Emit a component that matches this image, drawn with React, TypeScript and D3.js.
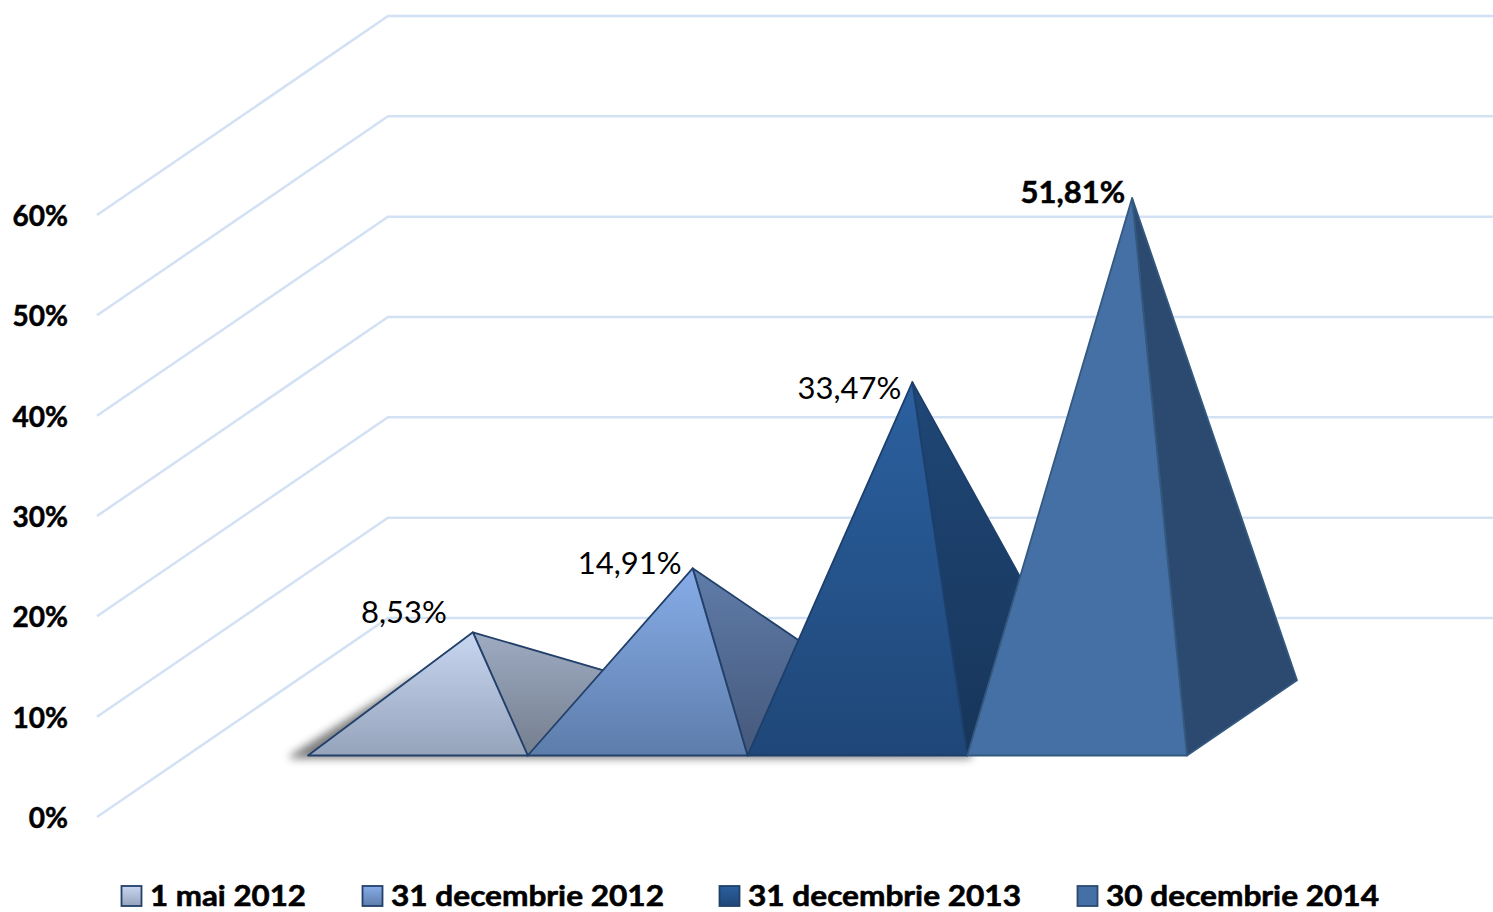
import React from "react";
import * as d3 from "d3";

const categories = ["1 mai 2012", "31 decembrie 2012", "31 decembrie 2013", "30 decembrie 2014"];
const values = [8.53, 14.91, 33.47, 51.81];
const valueLabels = ["8,53%", "14,91%", "33,47%", "51,81%"];
const ticks = [0, 10, 20, 30, 40, 50, 60];

const FONT = "Lato, 'Open Sans', sans-serif";
const frontColors = [["#c8d6f1", "#95a3bb"], ["#87ace8", "#5d7dab"], ["#2b609f", "#1f4778"], ["#4570a6", "#4570a6"]];
const sideColors = [["#9eabc2", "#747e8e"], ["#5f7ca9", "#45587a"], ["#1f4776", "#17355a"], ["#2c4a70", "#2c4a70"]];
const strokes = ["#22406a", "#22406a", "#1d3f6c", "#34597f"];
const labelNudges: [number, number][] = [[-26, -9], [-11, 6], [-11, 17], [-7, 5]];
const legendX = [121, 362, 719, 1077];
const legendTextW = [156, 273, 273, 273];

const y = d3.scaleLinear().domain([0, 60]).range([817, 215]);
const x = d3.scaleBand().domain(categories).range([308, 1187]).padding(0);
const depthDx = d3.scaleLinear().domain([0, 1]).range([0, 291]);
const depthDy = d3.scaleLinear().domain([0, 1]).range([0, -199]);

const baseY = 755.5;
const depth = 110 / 291; // pyramid depth as a fraction of the floor depth
const path = (pts: [number, number][]) => d3.line()(pts) + "Z";

export default function App() {
  const bw = x.bandwidth();
  const height = (v: number) => y(0) - y(v);
  const dx = depthDx(depth);
  const dy = depthDy(depth);
  const first = x(categories[0])!;
  const shadowEnd = x(categories[3])! + 4;
  return (
    <svg width={1493} height={912} style={{ position: "absolute", left: 0, top: 0, display: "block", background: "#fff" }}>
      <defs>
        {categories.map((_, i) => (
          <React.Fragment key={i}>
            <linearGradient id={`f${i}`} x1="0" y1="0" x2="0" y2="1">
              <stop offset="0" stopColor={frontColors[i][0]} />
              <stop offset="1" stopColor={frontColors[i][1]} />
            </linearGradient>
            <linearGradient id={`s${i}`} x1="0" y1="0" x2="0" y2="1">
              <stop offset="0" stopColor={sideColors[i][0]} />
              <stop offset="1" stopColor={sideColors[i][1]} />
            </linearGradient>
          </React.Fragment>
        ))}
        <filter id="blur" x="-10%" y="-30%" width="120%" height="160%">
          <feGaussianBlur stdDeviation="4.5" />
        </filter>
      </defs>

      {ticks.map((t) => (
        <polyline
          key={t}
          points={`${depthDx(0) + 97},${y(t)} ${depthDx(1) + 97},${y(t) + depthDy(1)} 1493,${y(t) + depthDy(1)}`}
          fill="none"
          stroke="#d3e1f5"
          strokeWidth={2.5}
        />
      ))}
      {ticks.map((t) => (
        <text key={t} x={68} y={y(t) + 11} textAnchor="end" fontFamily={FONT} fontWeight={700} fontSize={28} fill="#000" stroke="#000" strokeWidth={0.5}>
          {t}%
        </text>
      ))}

      <path
        d={path([[first - 18, baseY], [first + 105, baseY - 78], [first + 200, baseY - 20], [shadowEnd, baseY - 4], [shadowEnd, baseY + 3], [first - 18, baseY + 3]])}
        fill="#000"
        opacity={0.5}
        filter="url(#blur)"
      />

      {categories.map((c, i) => {
        const x0 = x(c)!;
        const x1 = x0 + bw;
        const ax = x0 + bw / 2 + dx / 2;
        const ay = baseY + dy / 2 - height(values[i]);
        return (
          <g key={c}>
            <path d={path([[x1, baseY], [x1 + dx, baseY + dy], [ax, ay]])} fill={`url(#s${i})`} stroke={strokes[i]} strokeWidth={1.8} strokeLinejoin="round" />
            <path d={path([[x0, baseY], [x1, baseY], [ax, ay]])} fill={`url(#f${i})`} stroke={strokes[i]} strokeWidth={1.8} strokeLinejoin="round" />
          </g>
        );
      })}

      {categories.map((c, i) => {
        const ax = x(c)! + bw / 2 + dx / 2;
        const ay = baseY + dy / 2 - height(values[i]);
        return (
          <text key={c} x={ax + labelNudges[i][0]} y={ay + labelNudges[i][1]} textAnchor="end" fontFamily={FONT} fontSize={31} fontWeight={i === 3 ? 700 : 400} fill="#000" stroke={i === 3 ? "#000" : "none"} strokeWidth={0.5}>
            {valueLabels[i]}
          </text>
        );
      })}

      {categories.map((c, i) => (
        <g key={c}>
          <rect x={legendX[i] + 0.5} y={886} width={20} height={20} fill={`url(#f${i})`} stroke={i === 3 ? "#2c4a70" : "#22406a"} strokeWidth={1.8} />
          <text x={legendX[i] + 29} y={905.5} textLength={legendTextW[i]} lengthAdjust="spacingAndGlyphs" fontFamily={FONT} fontWeight={700} fontSize={29} fill="#000" stroke="#000" strokeWidth={0.6}>
            {c}
          </text>
        </g>
      ))}
    </svg>
  );
}
